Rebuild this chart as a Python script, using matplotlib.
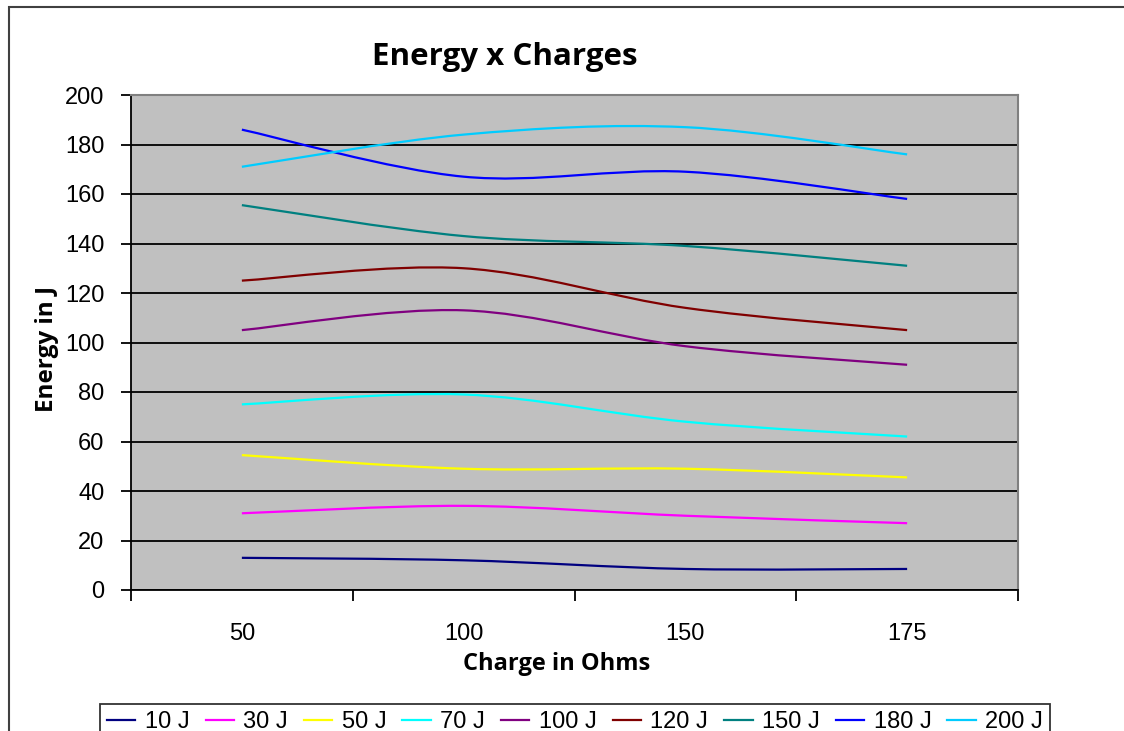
import matplotlib
matplotlib.use('Agg')
import matplotlib.pyplot as plt
from matplotlib.path import Path
from matplotlib.patches import PathPatch, Rectangle
from matplotlib.lines import Line2D
import numpy as np

# chart data
charges = ['50', '100', '150', '175']
series_names = ['10 J', '30 J', '50 J', '70 J', '100 J', '120 J', '150 J', '180 J', '200 J']
e10 = [13, 12, 8.5, 8.5]
e30 = [31, 34, 30, 27]
e50 = [54.5, 49, 49, 45.5]
e70 = [75, 79, 68, 62]
e100 = [105, 113, 98.5, 91]
e120 = [125, 130, 114, 105]
e150 = [155.5, 143, 139, 131]
e180 = [186, 167, 169, 158]
e200 = [171, 184, 187, 176]
series = [e10, e30, e50, e70, e100, e120, e150, e180, e200]
colors = ['#000080', '#FF00FF', '#FFFF00', '#00FFFF', '#800080',
          '#800000', '#008080', '#0000FF', '#00CCFF']


def smooth_path(xs, ys):
    # excel style smoothed line, drawn as cubic bezier segments
    pts = np.column_stack([xs, ys]).astype(float)
    n = len(pts)
    verts = [pts[0]]
    codes = [Path.MOVETO]
    for i in range(n - 1):
        p0 = pts[max(i - 1, 0)]
        p1 = pts[i]
        p2 = pts[i + 1]
        p3 = pts[min(i + 2, n - 1)]
        c1 = p1 + (p2 - p0) / 6.0
        c2 = p2 - (p3 - p1) / 6.0
        verts += [c1, c2, p2]
        codes += [Path.CURVE4] * 3
    return Path(verts, codes)


W, H = 1124, 731
fig = plt.figure(figsize=(W / 100, H / 100), dpi=100)
fig.patch.set_facecolor('white')

# outer chart border
fig.add_artist(Rectangle((9 / W, -0.05), 1.2, 1 - 7 / H + 0.05, transform=fig.transFigure,
                         fill=False, edgecolor='#404040', linewidth=1.5))

ax = fig.add_axes([131 / W, 1 - 590 / H, (1018 - 131) / W, (590 - 95) / H])
ax.set_facecolor('#C0C0C0')

x = np.arange(len(charges))
for vals, col in zip(series, colors):
    ax.add_patch(PathPatch(smooth_path(x, vals), facecolor='none', edgecolor=col,
                           linewidth=1.6, zorder=3))

ax.set_xlim(-0.5, len(charges) - 0.5)
ax.set_ylim(0, 200)
ax.set_yticks(np.arange(0, 201, 20))
ax.yaxis.grid(True, color='black', linewidth=1.3)
ax.set_axisbelow(True)

ax.set_xticks(np.arange(-0.5, len(charges), 1.0))
ax.set_xticklabels([])
ax.set_xticks(x, minor=True)
ax.set_xticklabels(charges, minor=True)
ax.tick_params(axis='x', which='major', direction='out', length=8, width=1.3, color='black')
ax.tick_params(axis='x', which='minor', length=0, pad=24)
ax.tick_params(axis='y', direction='out', length=7, width=1.3, color='black', pad=12)

for lab in ax.get_xticklabels(minor=True) + ax.get_yticklabels():
    lab.set_fontfamily('Liberation Sans')
    lab.set_fontsize(17)

ax.spines['left'].set_color('black')
ax.spines['bottom'].set_color('black')
ax.spines['left'].set_linewidth(1.3)
ax.spines['bottom'].set_linewidth(1.3)
ax.spines['top'].set_color('#808080')
ax.spines['right'].set_color('#808080')
ax.spines['top'].set_linewidth(1.5)
ax.spines['right'].set_linewidth(1.5)

fig.text(505 / W, 1 - 57 / H, 'Energy x Charges', ha='center', va='center',
         fontsize=22.5, fontweight='bold', family='Open Sans')
fig.text(557 / W, 1 - 664 / H, 'Charge in Ohms', ha='center', va='center',
         fontsize=17, fontweight='bold', family='Open Sans')
fig.text(47 / W, 1 - 349 / H, 'Energy in J', ha='center', va='center', rotation=90,
         fontsize=17.5, fontweight='bold', family='Open Sans')

handles = [Line2D([0], [0], color=c, linewidth=1.6) for c in colors]
leg = fig.legend(handles, series_names, loc='upper center', bbox_to_anchor=(575 / W, 1 - 692 / H),
                 ncol=len(series_names), frameon=True, fancybox=False, handlelength=1.2,
                 handletextpad=0.4, columnspacing=0.68, borderpad=0.3,
                 prop={'family': 'Liberation Sans', 'size': 17})
leg.get_frame().set_edgecolor('black')
leg.get_frame().set_linewidth(1.3)

fig.savefig('out.png', dpi=100)
